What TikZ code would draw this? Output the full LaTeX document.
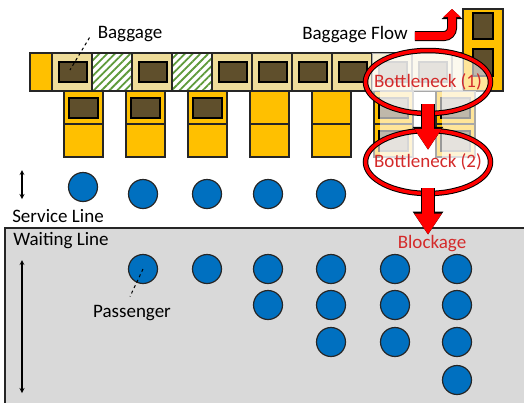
\documentclass[tikz,border=0pt]{standalone}
\usepackage{fontspec}
\setmainfont{Carlito}
\usetikzlibrary{shapes.geometric,arrows.meta,patterns.meta}
\definecolor{beltcream}{HTML}{EEDC9A}
\definecolor{deskgold}{HTML}{FFC000}
\definecolor{bagbrown}{HTML}{5F4F2C}
\definecolor{hatchgreen}{HTML}{5E9A3A}
\definecolor{paxblue}{HTML}{0070C0}
\definecolor{waitgray}{HTML}{D9D9D9}
\definecolor{edge}{HTML}{262626}
\definecolor{alarm}{HTML}{FF0000}
\definecolor{alarmtext}{HTML}{D42A2A}
\tikzset{
  cell/.style={draw=edge, line width=1.2pt, fill=beltcream},
  hatchcell/.style={draw=edge, line width=1.2pt, preaction={fill=white},
    pattern={Lines[angle=45,distance=5.5pt,line width=1.8pt]}, pattern color=hatchgreen},
  deskbox/.style={draw=edge, line width=1.2pt, fill=deskgold},
  bagbox/.style={draw=black, line width=1.2pt, fill=bagbrown},
  ghost/.style={fill=white, fill opacity=0.6},
  pax/.style={circle, draw=edge, line width=1.2pt, fill=paxblue, minimum size=29pt, inner sep=0pt},
  lbl/.style={font=\fontsize{19}{22}\selectfont, text=black, inner sep=0pt},
  redlbl/.style={lbl, text=alarmtext},
  leader/.style={dashed, line width=1pt},
  neck/.style={ellipse, draw=black, line width=5.5pt, minimum width=125pt, minimum height=63pt,
    preaction={fill=white, fill opacity=0.6}, postaction={draw=alarm, line width=3.5pt}},
  blockarrow/.style={draw=alarm, line width=12pt, -{Triangle[width=26pt,length=21pt]},
    preaction={draw=black, line width=14pt, -{Triangle[width=29pt,length=23pt]}}},
  flowarrow/.style={draw=alarm, line width=8pt, -{Triangle[width=17pt,length=8pt]},
    preaction={draw=black, line width=10pt, -{Triangle[width=20pt,length=10pt]}}},
}
\begin{document}
\begin{tikzpicture}[>=stealth, x=1pt, y=-1pt]
\useasboundingbox (0,0) rectangle (524,402);
\fill[waitgray] (5,228) rectangle (530,410);
\draw[edge, line width=1.2pt] (5,410) -- (5,228) -- (530,228);

\draw[deskbox] (30,53) rectangle (52,91);
\foreach \cx in {52,132,212,252,292,332,372,412} {
  \draw[cell] (\cx,53) rectangle ++(40,38);
  \draw[bagbox] (\cx+7,62) rectangle ++(28,20);
}
\foreach \cx in {92,172} \draw[hatchcell] (\cx,53) rectangle ++(40,38);
\draw[cell] (452,53) rectangle (463,91);
\foreach \dx in {64,126,188,250,312,374,436} {
  \draw[deskbox] (\dx,91) rectangle ++(39,33);
  \draw[deskbox] (\dx,124) rectangle ++(39,33);
}
\foreach \dx in {64,126,188,374,436} \draw[bagbox] (\dx+5,98) rectangle ++(29,20);
\foreach \dx in {374,436} \draw[bagbox] (\dx+5,131) rectangle ++(29,20);
\draw[deskbox] (463,9) rectangle (503,91);
\draw[bagbox] (473,13) rectangle (493,39);
\draw[bagbox] (473,49) rectangle (493,76);
\fill[ghost] (372,53) rectangle (463,91);
\foreach \dx in {374,436} \fill[ghost] (\dx+6,91) rectangle ++(34,67);

\node[pax] (s1) at (83,187) {};
\foreach \px [count=\k from 2] in {143,207,268,331} \node[pax] (s\k) at (\px,194) {};
\foreach \px [count=\k] in {143,207,268,331,395,457} \node[pax] (wa\k) at (\px,269) {};
\foreach \px [count=\k] in {268,331,395,457} \node[pax] (wb\k) at (\px,305) {};
\foreach \px [count=\k] in {331,395,457} \node[pax] (wc\k) at (\px,342) {};
\node[pax] (wd1) at (457,380) {};

\node[lbl, anchor=base] (bagtxt) at (130,38) {Baggage};
\node[lbl, anchor=base] (flowtxt) at (355,39) {Baggage Flow};
\node[lbl, anchor=base] (svctxt) at (58,222) {Service Line};
\node[lbl, anchor=base] (waittxt) at (61,245) {Waiting Line};
\node[lbl, anchor=base] (paxtxt) at (132,317) {Passenger};
\node[redlbl, anchor=base] (blktxt) at (432,248) {Blockage};
\coordinate (bagspot) at (70,70);
\draw[leader] ([shift={(-8,4)}]bagtxt.west) -- (bagspot);
\draw[leader] (wa1.center) -- ([shift={(-2,-8)}]paxtxt.north);

\coordinate (svctop) at (22,170);
\coordinate (svcbot) at (22,199);
\coordinate (waittop) at (22,260);
\coordinate (waitbot) at (22,393);
\draw[<->, line width=1.2pt] (svctop) -- (svcbot);
\draw[<->, line width=1.2pt] (waittop) -- (waitbot);

\coordinate (flowtip) at (452,9);
\draw[flowarrow, rounded corners=8pt] ([xshift=7pt,yshift=-2pt]flowtxt.east) -| (flowtip);

\node[neck, label={[redlbl]center:Bottleneck (1)}] (bn1) at (428,82) {};
\node[neck, label={[redlbl]center:Bottleneck (2)}] (bn2) at (428,162) {};
\draw[blockarrow] ([yshift=12pt]bn1.south) -- ([yshift=-22pt]bn2.north);
\draw[blockarrow] ([yshift=8pt]bn2.south) -- (bn2.south |- blktxt.north);
\end{tikzpicture}
\end{document}
